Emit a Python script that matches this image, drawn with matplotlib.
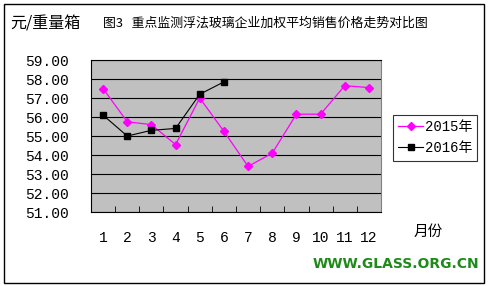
import matplotlib
matplotlib.use('Agg')
import matplotlib.pyplot as plt
from matplotlib.patches import Rectangle

plt.rcParams['font.family'] = ['Noto Sans CJK SC', 'DejaVu Sans']

months = [str(m) for m in range(1, 13)]
y2015 = [57.5, 55.75, 55.6, 54.55, 57.0, 55.25, 53.4, 54.1, 56.15, 56.15, 57.65, 57.55]
y2016 = [56.1, 55.0, 55.3, 55.4, 57.2, 57.85]
yticks = [51, 52, 53, 54, 55, 56, 57, 58, 59]

fig = plt.figure(figsize=(4.91, 2.86), dpi=100)
fig.patch.set_facecolor('white')

# outer frame
fig.patches.append(Rectangle((0.008, 0.012), 0.977, 0.975, transform=fig.transFigure,
                             fill=False, edgecolor='black', linewidth=1.0))

ax = fig.add_axes([0.1853, 0.2587, 0.5907, 0.5313])
ax.set_facecolor('#C0C0C0')

x = list(range(len(months)))
ax.plot(x, y2015, color='#FF00FF', linewidth=0.9, marker='D', markersize=4,
        markerfacecolor='#FF00FF', markeredgecolor='#FF00FF', label='2015年', zorder=3)
ax.plot(x[:len(y2016)], y2016, color='black', linewidth=0.8, marker='s', markersize=5,
        markerfacecolor='black', markeredgecolor='black', label='2016年', zorder=4)

ax.set_xlim(-0.5, len(months) - 0.5)
ax.set_ylim(51, 59)
ax.set_yticks(yticks)
ax.set_yticklabels(['%.2f' % v for v in yticks], fontfamily='Liberation Mono', fontsize=10.5)
ax.yaxis.grid(True, color='black', linewidth=0.8)
ax.set_axisbelow(True)
ax.tick_params(axis='y', length=0, pad=16)

ax.set_xticks(x)
ax.set_xticklabels(months, fontfamily='Liberation Mono', fontsize=10.5)
ax.set_xticks([i + 0.5 for i in x[:-1]], minor=True)
ax.tick_params(axis='x', which='major', length=0, pad=14)
ax.tick_params(axis='x', which='minor', direction='in', length=4, color='black')

for s in ['left', 'bottom', 'top']:
    ax.spines[s].set_color('black')
    ax.spines[s].set_linewidth(0.8)
ax.spines['right'].set_color('#808080')

leg = ax.legend(loc='upper left', bbox_to_anchor=(1.04, 0.64), frameon=True, fancybox=False,
                edgecolor='black', fontsize=10, handlelength=1.8, borderpad=0.4,
                labelspacing=0.5, handletextpad=0.1, borderaxespad=0)
leg.get_frame().set_linewidth(0.8)
for t in leg.get_texts():
    t.set_fontfamily(['Liberation Mono', 'Noto Sans CJK SC'])

fig.text(0.02, 0.915, '元/重量箱', fontsize=11.5, va='center', ha='left')
fig.text(0.21, 0.918, '图3   重点监测浮法玻璃企业加权平均销售价格走势对比图', fontsize=9.3,
         va='center', ha='left')
fig.text(0.842, 0.188, '月份', fontsize=10.5, va='center', ha='left')
fig.text(0.975, 0.078, 'WWW.GLASS.ORG.CN', fontsize=10, fontweight='heavy', color='#1F8A1A',
         va='center', ha='right', fontfamily='DejaVu Sans')

fig.savefig('out.png', dpi=100)
